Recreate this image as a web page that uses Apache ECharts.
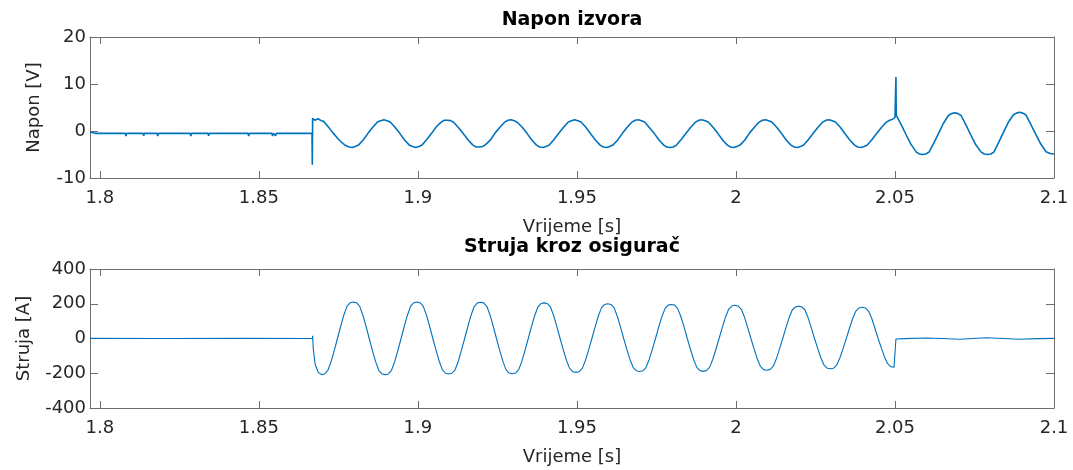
<!DOCTYPE html>
<html>
<head>
<meta charset="utf-8">
<script src="https://cdn.jsdelivr.net/npm/echarts@6/dist/echarts.min.js"></script>
<style>
html,body{margin:0;padding:0;background:#ffffff;}
#chart{width:1073px;height:470px;}
</style>
</head>
<body>
<div id="chart"></div>
<script>
// ---------- texts & ticks ----------
const titles = ['Napon izvora', 'Struja kroz osigurač'];
const xName = 'Vrijeme [s]';
const yNames = ['Napon [V]', 'Struja [A]'];
const xTickValues = [1.8, 1.85, 1.9, 1.95, 2, 2.05, 2.1];
const xTickLabels = ['1.8', '1.85', '1.9', '1.95', '2', '2.05', '2.1'];
const xRange = [1.7969, 2.1];
const voltageAxis = [-10, 20, 10];   // min, max, interval
const currentAxis = [-400, 400, 200];

// ---------- voltage [t (s), U (V)] ----------
const voltageBefore = [
  [1.7969,-0.2],[1.7975,-0.3],[1.7985,-0.5],
  [1.8080,-0.5],[1.8082,-1.1],[1.8084,-0.5],
  [1.8136,-0.5],[1.8138,-1.0],[1.8140,-0.5],
  [1.8180,-0.5],[1.8182,-1.1],[1.8184,-0.5],
  [1.8215,-0.5],[1.8217,-0.9],[1.8219,-0.5],
  [1.8284,-0.5],[1.8286,-1.1],[1.8288,-0.5],
  [1.8340,-0.5],[1.8342,-1.0],[1.8344,-0.5],
  [1.8394,-0.5],[1.8396,-0.9],[1.8398,-0.5],
  [1.8466,-0.5],[1.8468,-1.1],[1.8470,-0.5],
  [1.8541,-0.5],[1.8543,-1.1],[1.8545,-0.5],
  [1.8553,-1.0],[1.8555,-0.5],
  [1.8667,-0.5]
];
const voltageDuring = [
  [1.8668,-7.2],[1.8669,2.7],[1.8676,2.3],[1.8686,2.6],[1.8696,2.2],[1.8703,2.1],
  [1.8718,0.9],[1.8733,-0.4],[1.8748,-1.6],[1.8763,-2.6],[1.8773,-3.1],[1.8783,-3.4],[1.8793,-3.5],[1.8803,-3.3],[1.8813,-3.0],
  [1.8828,-1.9],[1.8843,-0.5],[1.8858,0.8],[1.8873,1.9],[1.8883,2.2],[1.8893,2.4],[1.8903,2.2],[1.8913,1.9],
  [1.8928,0.8],[1.8943,-0.5],[1.8958,-1.9],[1.8973,-3.0],[1.8983,-3.3],[1.8993,-3.5],[1.9003,-3.3],[1.9013,-3.0],
  [1.9028,-1.8],[1.9043,-0.5],[1.9058,0.9],[1.9073,1.9],[1.9083,2.3],[1.9093,2.3],[1.9103,2.2],[1.9113,1.8],
  [1.9128,0.7],[1.9143,-0.6],[1.9158,-1.9],[1.9173,-3.0],[1.9183,-3.4],[1.9193,-3.4],[1.9203,-3.3],[1.9213,-2.9],
  [1.9228,-1.9],[1.9243,-0.4],[1.9258,0.8],[1.9273,1.9],[1.9283,2.3],[1.9293,2.4],[1.9303,2.2],[1.9313,1.8],
  [1.9328,0.8],[1.9343,-0.5],[1.9358,-1.9],[1.9373,-3.0],[1.9383,-3.4],[1.9393,-3.5],[1.9403,-3.3],[1.9413,-3.0],
  [1.9428,-1.8],[1.9443,-0.5],[1.9458,0.8],[1.9473,1.9],[1.9483,2.2],[1.9493,2.4],[1.9503,2.2],[1.9513,1.9],
  [1.9528,0.8],[1.9543,-0.6],[1.9558,-1.9],[1.9573,-3.0],[1.9583,-3.4],[1.9593,-3.5],[1.9603,-3.3],[1.9613,-3.0],
  [1.9628,-1.9],[1.9643,-0.5],[1.9658,0.8],[1.9673,1.9],[1.9683,2.3],[1.9693,2.4],[1.9703,2.2],[1.9713,1.9],
  [1.9728,0.7],[1.9743,-0.5],[1.9758,-1.9],[1.9773,-3.0],[1.9783,-3.4],[1.9793,-3.5],[1.9803,-3.4],[1.9813,-3.0],
  [1.9828,-1.8],[1.9843,-0.5],[1.9858,0.8],[1.9873,1.9],[1.9883,2.3],[1.9893,2.4],[1.9903,2.2],[1.9913,1.9],
  [1.9928,0.8],[1.9943,-0.5],[1.9958,-1.9],[1.9973,-3.0],[1.9983,-3.4],[1.9993,-3.5],[2.0003,-3.3],[2.0013,-3.0],
  [2.0028,-1.9],[2.0043,-0.4],[2.0058,0.8],[2.0073,1.9],[2.0083,2.3],[2.0093,2.4],[2.0103,2.2],[2.0113,1.9],
  [2.0128,0.8],[2.0143,-0.5],[2.0158,-1.9],[2.0173,-3.0],[2.0183,-3.4],[2.0193,-3.5],[2.0203,-3.3],[2.0213,-3.0],
  [2.0228,-1.8],[2.0243,-0.5],[2.0258,0.8],[2.0273,1.9],[2.0283,2.3],[2.0293,2.4],[2.0303,2.2],[2.0313,1.9],
  [2.0328,0.8],[2.0343,-0.6],[2.0358,-1.9],[2.0373,-3.0],[2.0383,-3.4],[2.0393,-3.5],[2.0403,-3.3],[2.0413,-3.0],
  [2.0428,-1.8],[2.0443,-0.5],[2.0458,0.8],[2.0473,1.9],[2.0483,2.3],[2.0493,2.5],[2.0500,2.9],[2.0502,3.3]
];
const voltageAfter = [
  [2.0503,11.5],[2.0504,3.3],
  [2.0520,1.3],[2.0535,-0.8],[2.0550,-2.8],[2.0567,-4.5],[2.0577,-4.9],[2.0587,-5.0],[2.0597,-4.9],[2.0607,-4.5],
  [2.0622,-2.6],[2.0637,-0.5],[2.0652,1.6],[2.0668,3.3],[2.0678,3.7],[2.0688,3.9],[2.0698,3.7],[2.0708,3.3],
  [2.0723,1.3],[2.0738,-0.8],[2.0753,-2.8],[2.0771,-4.5],[2.0781,-4.9],[2.0791,-5.0],[2.0801,-4.9],[2.0811,-4.5],
  [2.0826,-2.4],[2.0841,-0.3],[2.0856,1.8],[2.0872,3.4],[2.0882,3.8],[2.0892,4.0],[2.0902,3.8],[2.0912,3.4],
  [2.0927,1.4],[2.0942,-0.6],[2.0957,-2.6],[2.0975,-4.4],[2.0988,-4.8],[2.1000,-4.9]
];

// ---------- current [t (s), I (A)] ----------
const currentBefore = [
  [1.7969,1],[1.8200,0],[1.8450,1],[1.8668,0]
];
const currentDuring = [
  [1.8669,15],[1.8671,-60],[1.8677,-150],[1.8687,-196],[1.8697,-208],
  [1.8707,-204],[1.8717,-183],[1.8727,-133],[1.8737,-69],[1.8747,0],[1.8757,69],[1.8767,134],[1.8777,185],[1.8787,206],[1.8797,210],
  [1.8807,206],[1.8817,185],[1.8827,134],[1.8837,69],[1.8847,0],[1.8857,-69],[1.8867,-133],[1.8877,-183],[1.8887,-204],[1.8897,-208],
  [1.8907,-204],[1.8917,-183],[1.8927,-133],[1.8937,-69],[1.8947,0],[1.8957,69],[1.8967,134],[1.8977,185],[1.8987,206],[1.8997,210],
  [1.9007,206],[1.9017,185],[1.9027,134],[1.9037,69],[1.9047,0],[1.9057,-67],[1.9067,-131],[1.9077,-180],[1.9087,-200],[1.9097,-204],
  [1.9107,-200],[1.9117,-180],[1.9127,-131],[1.9137,-67],[1.9147,0],[1.9157,69],[1.9167,134],[1.9177,184],[1.9187,205],[1.9197,209],
  [1.9207,205],[1.9217,184],[1.9227,134],[1.9237,69],[1.9247,0],[1.9257,-67],[1.9267,-130],[1.9277,-179],[1.9287,-199],[1.9297,-203],
  [1.9307,-199],[1.9317,-179],[1.9327,-130],[1.9337,-67],[1.9347,0],[1.9357,68],[1.9367,131],[1.9377,180],[1.9387,201],[1.9397,205],
  [1.9407,201],[1.9417,180],[1.9427,131],[1.9437,68],[1.9447,0],[1.9457,-64],[1.9467,-125],[1.9477,-172],[1.9487,-191],[1.9497,-195],
  [1.9507,-191],[1.9517,-172],[1.9527,-125],[1.9537,-64],[1.9547,0],[1.9557,66],[1.9567,128],[1.9577,176],[1.9587,196],[1.9597,200],
  [1.9607,196],[1.9617,176],[1.9627,128],[1.9637,66],[1.9647,0],[1.9657,-63],[1.9667,-122],[1.9677,-167],[1.9687,-186],[1.9697,-190],
  [1.9707,-186],[1.9717,-167],[1.9727,-122],[1.9737,-63],[1.9747,0],[1.9757,65],[1.9767,125],[1.9777,172],[1.9787,192],[1.9797,196],
  [1.9807,192],[1.9817,172],[1.9827,125],[1.9837,65],[1.9847,0],[1.9857,-62],[1.9867,-121],[1.9877,-166],[1.9887,-185],[1.9897,-189],
  [1.9907,-185],[1.9917,-166],[1.9927,-121],[1.9937,-62],[1.9947,0],[1.9957,63],[1.9967,122],[1.9977,168],[1.9987,187],[1.9997,191],
  [2.0007,187],[2.0017,168],[2.0027,122],[2.0037,63],[2.0047,0],[2.0057,-60],[2.0067,-117],[2.0077,-161],[2.0087,-179],[2.0097,-183],
  [2.0107,-179],[2.0117,-161],[2.0127,-117],[2.0137,-60],[2.0147,0],[2.0157,61],[2.0167,119],[2.0177,164],[2.0187,182],[2.0197,186],
  [2.0207,182],[2.0217,164],[2.0227,119],[2.0237,61],[2.0247,0],[2.0257,-57],[2.0267,-111],[2.0277,-153],[2.0287,-171],[2.0297,-174],
  [2.0307,-171],[2.0317,-153],[2.0327,-111],[2.0337,-57],[2.0347,0],[2.0357,59],[2.0367,115],[2.0377,158],[2.0387,176],[2.0397,180],
  [2.0407,176],[2.0417,158],[2.0427,115],[2.0437,59],[2.0447,0],[2.0457,-54],[2.0467,-106],[2.0477,-145],[2.0487,-162],[2.0497,-165],
  [2.0502,-163]
];
const currentAfter = [
  [2.0503,-3],[2.0530,-1],[2.0598,3],[2.0650,0],[2.0703,-4],[2.0745,0],[2.0787,4],[2.0840,0],[2.0892,-4],[2.0950,-1],[2.1000,1]
];

// ---------- styling ----------
const FONT = 'DejaVu Sans';
const AXIS_COLOR = '#6e6e6e';
const TEXT_COLOR = '#262626';
const LINE_COLOR = '#0072BD';

const grids = [
  {left: 90, top: 37, width: 964, height: 141},
  {left: 90, top: 269, width: 964, height: 139}
];

function xLabel(v) {
  for (let i = 0; i < xTickValues.length; i++) {
    if (Math.abs(v - xTickValues[i]) < 1e-9) return xTickLabels[i];
  }
  return '';
}

function makeX(g, pos, withLabels) {
  return {
    type: 'value', gridIndex: g, position: pos,
    min: xRange[0], max: xRange[1],
    axisLine: {show: true, onZero: false, lineStyle: {color: AXIS_COLOR, width: 1}},
    axisTick: {show: true, inside: true, length: 7, customValues: xTickValues,
               lineStyle: {color: AXIS_COLOR, width: 1}},
    axisLabel: {show: withLabels, customValues: xTickValues, formatter: xLabel,
                margin: 11, color: TEXT_COLOR, fontSize: 18, fontFamily: FONT},
    splitLine: {show: false},
    name: withLabels ? xName : '',
    nameLocation: 'middle', nameGap: 40,
    nameTextStyle: {color: TEXT_COLOR, fontSize: 18, fontFamily: FONT}
  };
}

function makeY(g, pos, range, name, gap, withLabels) {
  return {
    type: 'value', gridIndex: g, position: pos,
    min: range[0], max: range[1], interval: range[2],
    axisLine: {show: true, onZero: false, lineStyle: {color: AXIS_COLOR, width: 1}},
    axisTick: {show: true, inside: true, length: 8, lineStyle: {color: AXIS_COLOR, width: 1}},
    axisLabel: {show: withLabels, margin: 4, color: TEXT_COLOR, fontSize: 18, fontFamily: FONT},
    splitLine: {show: false},
    name: withLabels ? name : '',
    nameLocation: 'middle', nameGap: gap,
    nameTextStyle: {color: TEXT_COLOR, fontSize: 18, fontFamily: FONT}
  };
}

const chart = echarts.init(document.getElementById('chart'), null, {renderer: 'canvas'});
chart.setOption({
  animation: false,
  backgroundColor: '#ffffff',
  title: [
    {text: titles[0], left: 572, top: 11, padding: 0, textAlign: 'center',
     textStyle: {fontFamily: FONT, fontSize: 19, fontWeight: 'bold', color: '#000000'}},
    {text: titles[1], left: 572, top: 238, padding: 0, textAlign: 'center',
     textStyle: {fontFamily: FONT, fontSize: 19, fontWeight: 'bold', color: '#000000'}}
  ],
  grid: grids,
  xAxis: [
    makeX(0, 'bottom', true),
    makeX(0, 'top', false),
    makeX(1, 'bottom', true),
    makeX(1, 'top', false)
  ],
  yAxis: [
    makeY(0, 'left', voltageAxis, yNames[0], 47, true),
    makeY(0, 'right', voltageAxis, '', 0, false),
    makeY(1, 'left', currentAxis, yNames[1], 57, true),
    makeY(1, 'right', currentAxis, '', 0, false)
  ],
  series: [
    {
      type: 'line', name: titles[0], xAxisIndex: 0, yAxisIndex: 0,
      data: voltageBefore.concat(voltageDuring, voltageAfter),
      showSymbol: false, symbol: 'none', clip: true,
      lineStyle: {color: LINE_COLOR, width: 1.6}
    },
    {
      type: 'line', name: titles[1], xAxisIndex: 2, yAxisIndex: 2,
      data: currentBefore.concat(currentDuring, currentAfter),
      showSymbol: false, symbol: 'none', clip: true,
      lineStyle: {color: LINE_COLOR, width: 1.1}
    }
  ]
});
</script>
</body>
</html>
